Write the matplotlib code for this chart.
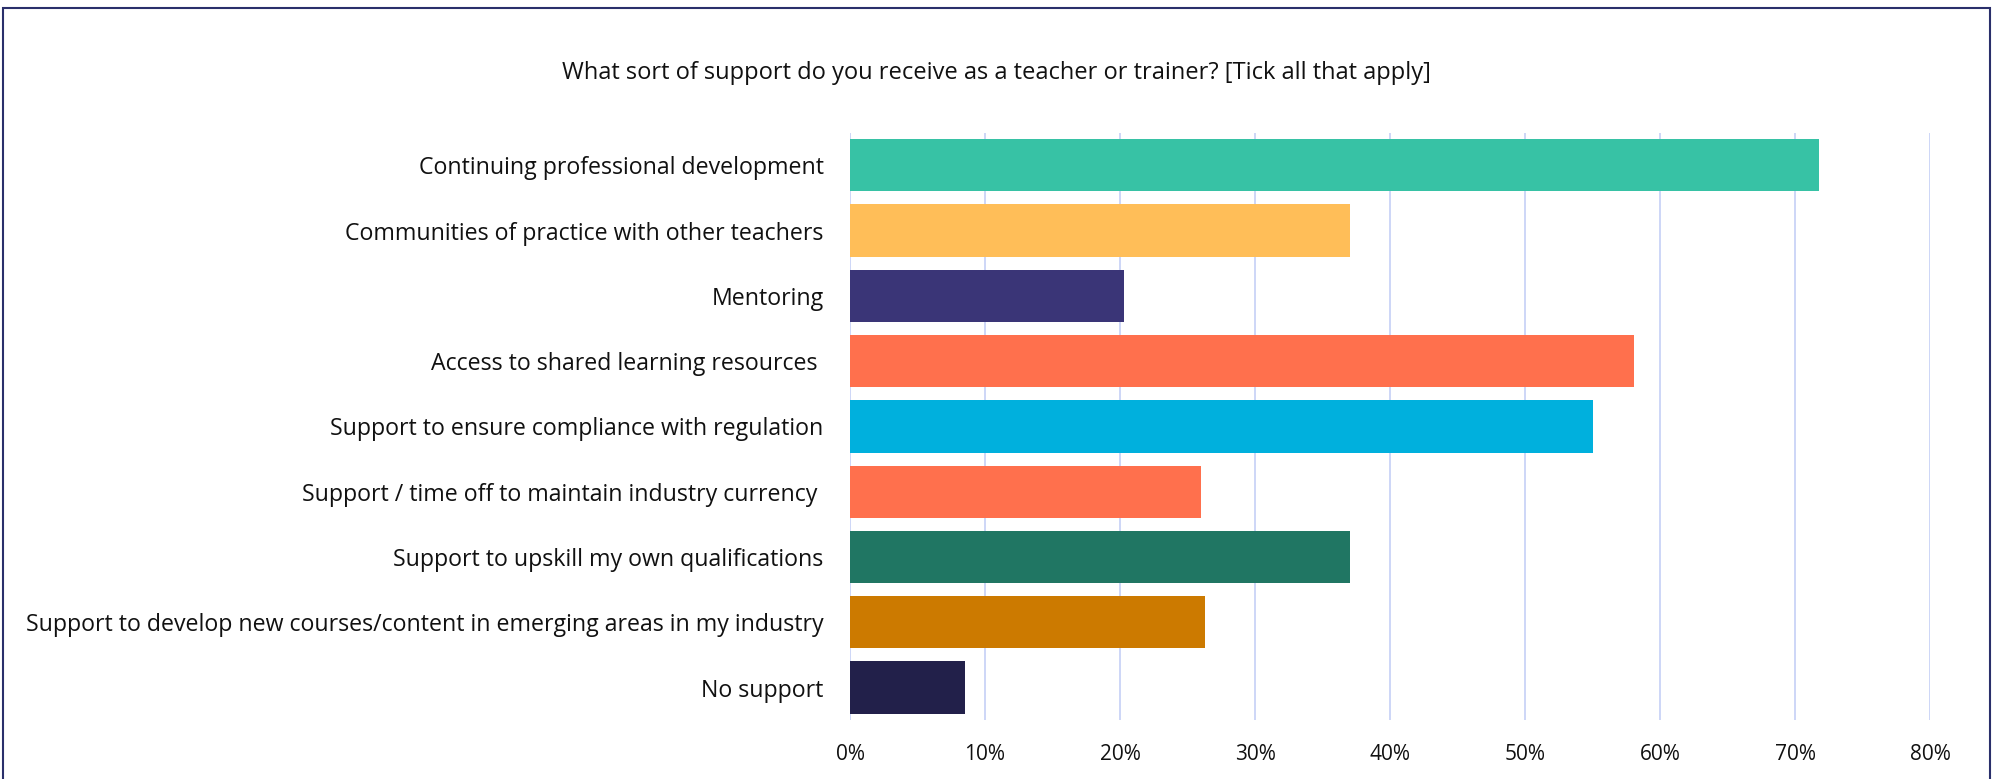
import numpy as np
import matplotlib.pyplot as plt
from matplotlib.patches import Rectangle
from matplotlib.ticker import PercentFormatter

plt.rcParams['font.family'] = ['Open Sans', 'DejaVu Sans']

# survey answers, top to bottom
categories = [
    "Continuing professional development",
    "Communities of practice with other teachers",
    "Mentoring",
    "Access to shared learning resources ",
    "Support to ensure compliance with regulation",
    "Support / time off to maintain industry currency ",
    "Support to upskill my own qualifications",
    "Support to develop new courses/content in emerging areas in my industry",
    "No support",
]
shares = [0.718, 0.370, 0.203, 0.581, 0.550, 0.260, 0.370, 0.263, 0.085]
bar_colors = ["#37C2A5", "#FFBE58", "#3A3577", "#FF704D", "#00B0DD",
              "#FF704D", "#207663", "#CC7A00", "#22204A"]
x_ticks = [0, 0.1, 0.2, 0.3, 0.4, 0.5, 0.6, 0.7, 0.8]
title = "What sort of support do you receive as a teacher or trainer? [Tick all that apply]"

fig = plt.figure(figsize=(19.93, 7.79), dpi=100)
ax = fig.add_axes([0.4265, 0.0754, 0.5419, 0.7544])

y = np.arange(len(categories))
ax.barh(y, shares, height=0.8, color=bar_colors, zorder=3)
ax.set_yticks(y)
ax.set_yticklabels(categories, fontsize=16.7, color="#111111")
ax.set_ylim(len(categories) - 0.5, -0.5)

ax.set_xlim(0, 0.8)
ax.set_xticks(x_ticks)
ax.xaxis.set_major_formatter(PercentFormatter(1.0, decimals=0))
ax.tick_params(axis="x", labelsize=15, length=0, pad=17, colors="#111111")
ax.tick_params(axis="y", length=0, pad=19)
ax.grid(axis="x", color="#C9D3F7", linewidth=1.3, zorder=0)
for s in ax.spines.values():
    s.set_visible(False)

fig.text(0.5, 1 - 73 / 779, title, ha="center", va="center", fontsize=17, color="#111111")

# thin frame around the chart area
fig.patches.append(Rectangle((3 / 1993, -0.05), 1 - 6 / 1993, 1.05 - 8 / 779,
                             transform=fig.transFigure, fill=False,
                             edgecolor="#2A2F6B", linewidth=1.5))

fig.savefig("out.png", dpi=100)
